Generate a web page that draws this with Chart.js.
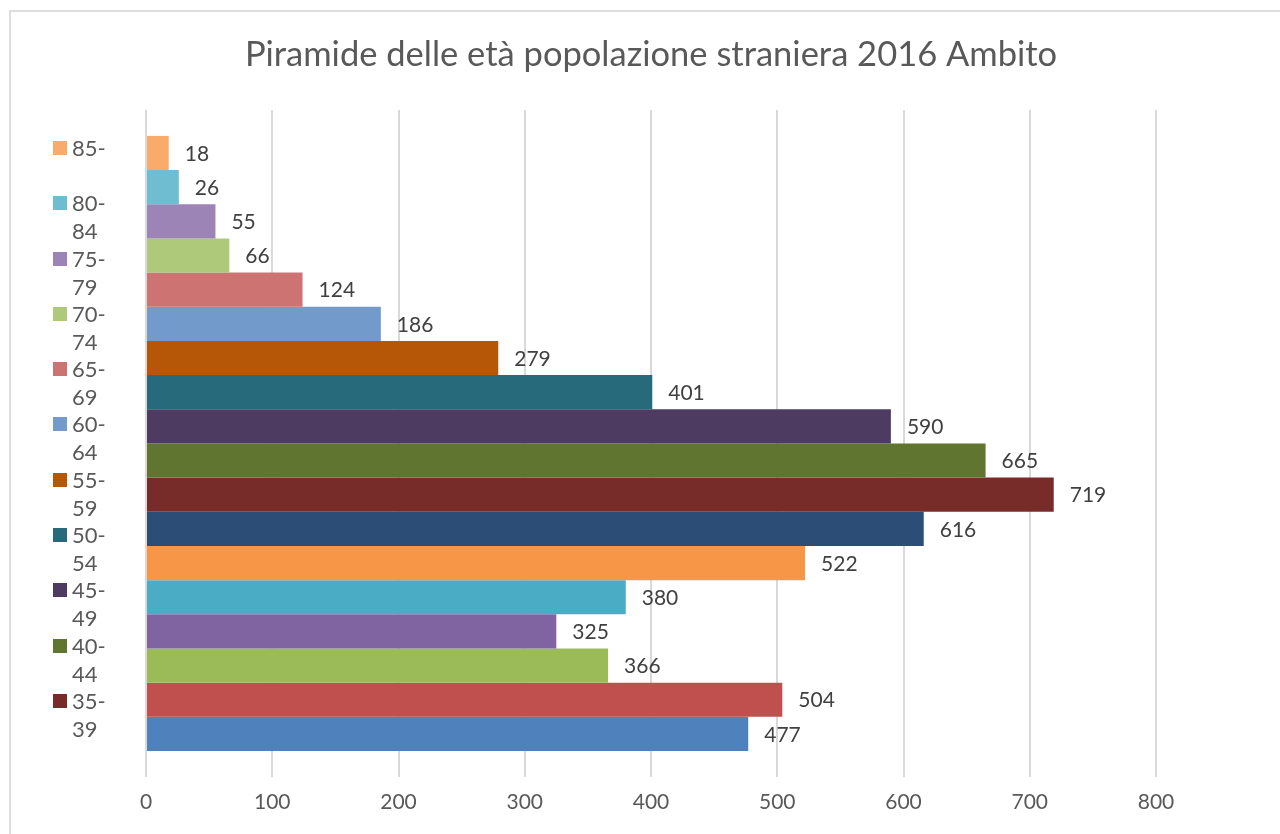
<!DOCTYPE html>
<html>
<head>
<meta charset="utf-8">
<script src="https://cdn.jsdelivr.net/npm/chart.js@4.4.0/dist/chart.umd.min.js"></script>
<style>
  body { margin: 0; background: #fff; }
  #wrap { position: relative; width: 1280px; height: 834px; overflow: hidden; }
  #frame { position: absolute; left: 9px; top: 10px; width: 1400px; height: 1000px; border: 2px solid #dedede; box-sizing: border-box; }
  #chartCanvas { position: absolute; left: 0; top: 0; }
  #legend { position: absolute; left: 53px; top: 134px; width: 80px; height: 612px; overflow: hidden; font-family: Lato, "Open Sans", sans-serif; font-size: 22px; color: #595959; }
  .item { position: relative; height: 55.3px; }
  .box { position: absolute; left: 0; top: 7px; width: 14px; height: 14px; }
  .txt { position: absolute; left: 19px; top: 0; line-height: 28px; white-space: pre-line; }
</style>
</head>
<body>
<div id="wrap">
  <div id="frame"></div>
  <canvas id="chartCanvas" width="1280" height="834"></canvas>
  <div id="legend"></div>
</div>
<script>
const ageGroups = ["85-", "80-84", "75-79", "70-74", "65-69", "60-64", "55-59", "50-54", "45-49",
  "40-44", "35-39", "30-34", "25-29", "20-24", "15-19", "10-14", "5-9", "0-4"];
const counts = [18, 26, 55, 66, 124, 186, 279, 401, 590, 665, 719, 616, 522, 380, 325, 366, 504, 477];
const colors = ["#F9AB6C", "#6FBDD1", "#9C85B6", "#AFC97A", "#CD7371", "#729ACA", "#B65708", "#276A7C",
  "#4D3B62", "#5F7530", "#772C2A", "#2C4D75", "#F79646", "#4BACC6", "#8064A2", "#9BBB59", "#C0504D", "#4F81BD"];
const xTicks = [0, 100, 200, 300, 400, 500, 600, 700, 800];

const fontFamily = "Lato, 'Open Sans', sans-serif";

const datasets = ageGroups.map((g, i) => ({
  label: g,
  data: [counts[i]],
  backgroundColor: colors[i],
  barPercentage: 1,
  categoryPercentage: 0.922,
}));

// value labels to the right of each bar
const valueLabels = {
  id: "valueLabels",
  afterDatasetsDraw(chart) {
    const ctx = chart.ctx;
    ctx.save();
    ctx.font = "21px " + fontFamily;
    ctx.fillStyle = "#404040";
    ctx.textBaseline = "middle";
    ctx.textAlign = "left";
    chart.data.datasets.forEach((ds, i) => {
      const el = chart.getDatasetMeta(i).data[0];
      ctx.fillText(ds.data[0], el.x + 16, el.y + 1);
    });
    ctx.restore();
  },
};

const ctxChart = document.getElementById("chartCanvas").getContext("2d");
const chart = new Chart(ctxChart, {
  type: "bar",
  data: { labels: [""], datasets: datasets },
  options: {
    indexAxis: "y",
    responsive: false,
    animation: false,
    layout: { padding: { left: 146, right: 124, top: 0, bottom: 0 } },
    scales: {
      x: {
        min: 0,
        max: 800,
        afterBuildTicks: (axis) => { axis.ticks = xTicks.map((v) => ({ value: v })); },
        afterFit: (axis) => { axis.height = 57; },
        grid: { color: "#d9d9d9", lineWidth: 2, drawTicks: false },
        border: { display: false },
        ticks: { padding: 13, color: "#595959", font: { family: fontFamily, size: 21 } },
      },
      y: { display: false },
    },
    plugins: {
      legend: { display: false },
      tooltip: { enabled: false },
      title: {
        display: true,
        text: "Piramide delle età popolazione straniera 2016 Ambito",
        color: "#595959",
        font: { family: fontFamily, size: 34.5, weight: "normal" },
        padding: { top: 34, bottom: 34.5 },
      },
    },
  },
  plugins: [valueLabels],
});

// legend built from the same arrays, clipped like the original
const legendEl = document.getElementById("legend");
ageGroups.forEach((g, i) => {
  const item = document.createElement("div");
  item.className = "item";
  const box = document.createElement("div");
  box.className = "box";
  box.style.background = colors[i];
  const txt = document.createElement("div");
  txt.className = "txt";
  txt.textContent = g.replace("-", "-\n");
  item.appendChild(box);
  item.appendChild(txt);
  legendEl.appendChild(item);
});
</script>
</body>
</html>
